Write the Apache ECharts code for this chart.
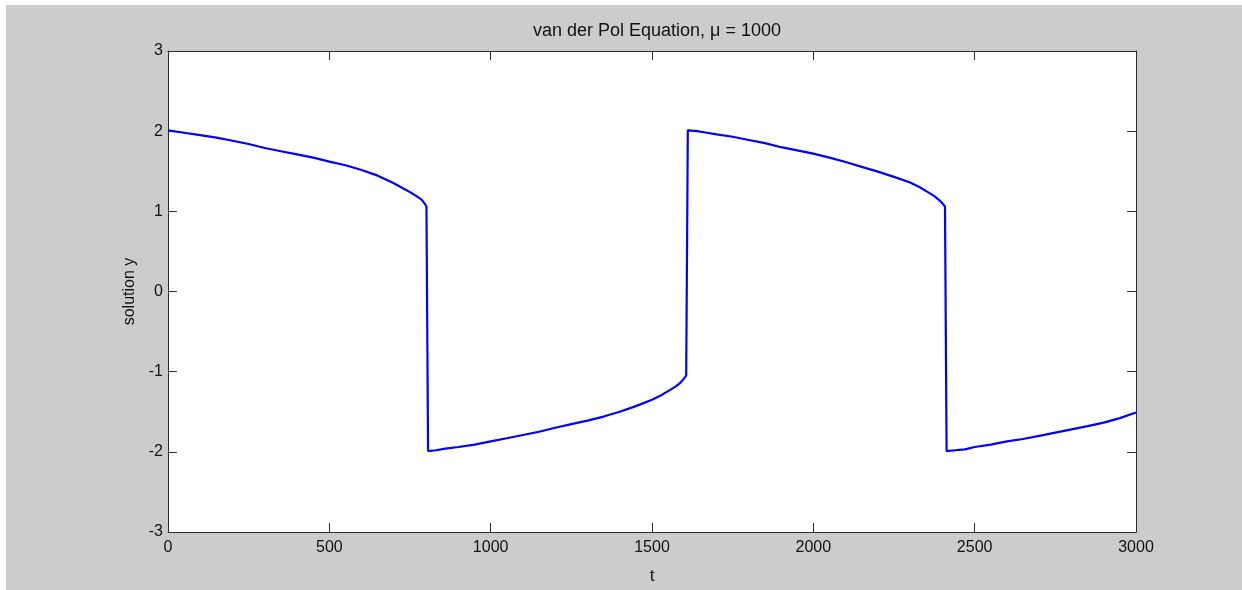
<!DOCTYPE html>
<html>
<head>
<meta charset="utf-8">
<script src="https://cdn.jsdelivr.net/npm/echarts@6/dist/echarts.min.js"></script>
<style>
  html, body { margin: 0; padding: 0; background: #ffffff; width: 1242px; height: 590px; overflow: hidden; }
  #chart { position: absolute; left: 6px; top: 5px; width: 1236px; height: 585px; }
</style>
</head>
<body>
<div id="chart"></div>
<script>
// Time points (t) and solution values (y)
const times = [
  0, 50, 100, 150, 200, 250, 300, 350, 400, 450, 500, 550, 600, 650, 700, 725, 750, 770, 785, 795, 801, 804,
  806, 830, 860, 900, 950, 1000, 1050, 1100, 1150, 1200, 1250, 1300, 1350, 1400, 1450, 1500, 1530, 1555, 1575, 1590, 1600, 1606, 1609,
  1611, 1640, 1670, 1700, 1750, 1800, 1850, 1900, 1950, 2000, 2050, 2100, 2150, 2200, 2250, 2300, 2330, 2355, 2375, 2390, 2400, 2408, 2411,
  2413, 2440, 2470, 2500, 2550, 2600, 2650, 2700, 2750, 2800, 2850, 2900, 2950, 3000
];
const solutionY = [
  2.01, 1.98, 1.95, 1.92, 1.88, 1.84, 1.79, 1.75, 1.71, 1.67, 1.62, 1.575, 1.515, 1.445, 1.35, 1.295, 1.24, 1.19, 1.15, 1.10, 1.06, 1.04,
  -1.99, -1.98, -1.96, -1.94, -1.91, -1.87, -1.83, -1.79, -1.75, -1.70, -1.655, -1.61, -1.56, -1.50, -1.43, -1.35, -1.29, -1.23, -1.18, -1.13, -1.08, -1.05, -1.03,
  2.01, 2.00, 1.98, 1.96, 1.93, 1.89, 1.85, 1.80, 1.76, 1.72, 1.67, 1.615, 1.555, 1.495, 1.43, 1.36, 1.30, 1.24, 1.19, 1.14, 1.10, 1.06, 1.05,
  -1.99, -1.98, -1.97, -1.94, -1.91, -1.87, -1.84, -1.80, -1.76, -1.72, -1.68, -1.635, -1.58, -1.51
];
const xTicks = [0, 500, 1000, 1500, 2000, 2500, 3000];
const yTicks = [-3, -2, -1, 0, 1, 2, 3];
const titleText = 'van der Pol Equation, \u03bc = 1000';
const xName = 't';
const yName = 'solution y';

const points = times.map((t, i) => [t, solutionY[i]]);

const axisColor = '#2a2a2a';
const fontFamily = 'Liberation Sans, Arial, sans-serif';

const chart = echarts.init(document.getElementById('chart'), null, { renderer: 'canvas' });
const baseX = {
  type: 'value', min: xTicks[0], max: xTicks[xTicks.length - 1], interval: 500,
  axisLine: { show: true, onZero: false, lineStyle: { color: axisColor, width: 1 } },
  axisTick: { show: true, inside: true, length: 9, lineStyle: { color: axisColor } },
  splitLine: { show: false }
};
const baseY = {
  type: 'value', min: yTicks[0], max: yTicks[yTicks.length - 1], interval: 1,
  axisLine: { show: true, onZero: false, lineStyle: { color: axisColor, width: 1 } },
  axisTick: { show: true, inside: true, length: 9, lineStyle: { color: axisColor } },
  splitLine: { show: false }
};
chart.setOption({
  backgroundColor: '#cccccc',
  animation: false,
  title: {
    text: titleText, left: 646, top: 12, textAlign: 'center',
    textStyle: { fontFamily, fontSize: 18, fontWeight: 'normal', color: '#111' }
  },
  grid: { left: 162, top: 46, width: 968, height: 481, show: true, backgroundColor: '#ffffff', borderWidth: 0 },
  xAxis: [
    Object.assign({}, baseX, {
      position: 'bottom',
      name: xName, nameLocation: 'middle', nameGap: 36,
      nameTextStyle: { fontFamily, fontSize: 17, color: '#111' },
      axisLabel: { show: true, margin: 8, fontFamily, fontSize: 16, color: '#111', formatter: v => String(v) }
    }),
    Object.assign({}, baseX, { position: 'top', axisLabel: { show: false } })
  ],
  yAxis: [
    Object.assign({}, baseY, {
      position: 'left',
      name: yName, nameLocation: 'middle', nameGap: 30,
      nameTextStyle: { fontFamily, fontSize: 16, color: '#111' },
      axisLabel: { show: true, margin: 5, fontFamily, fontSize: 16, color: '#111', formatter: v => String(v) }
    }),
    Object.assign({}, baseY, { position: 'right', axisLabel: { show: false } })
  ],
  series: [{
    type: 'line', xAxisIndex: 0, yAxisIndex: 0,
    data: points, showSymbol: false, smooth: false,
    lineStyle: { color: '#0000ff', width: 2.2 },
    itemStyle: { color: '#0000ff' }
  }]
});
</script>
</body>
</html>
